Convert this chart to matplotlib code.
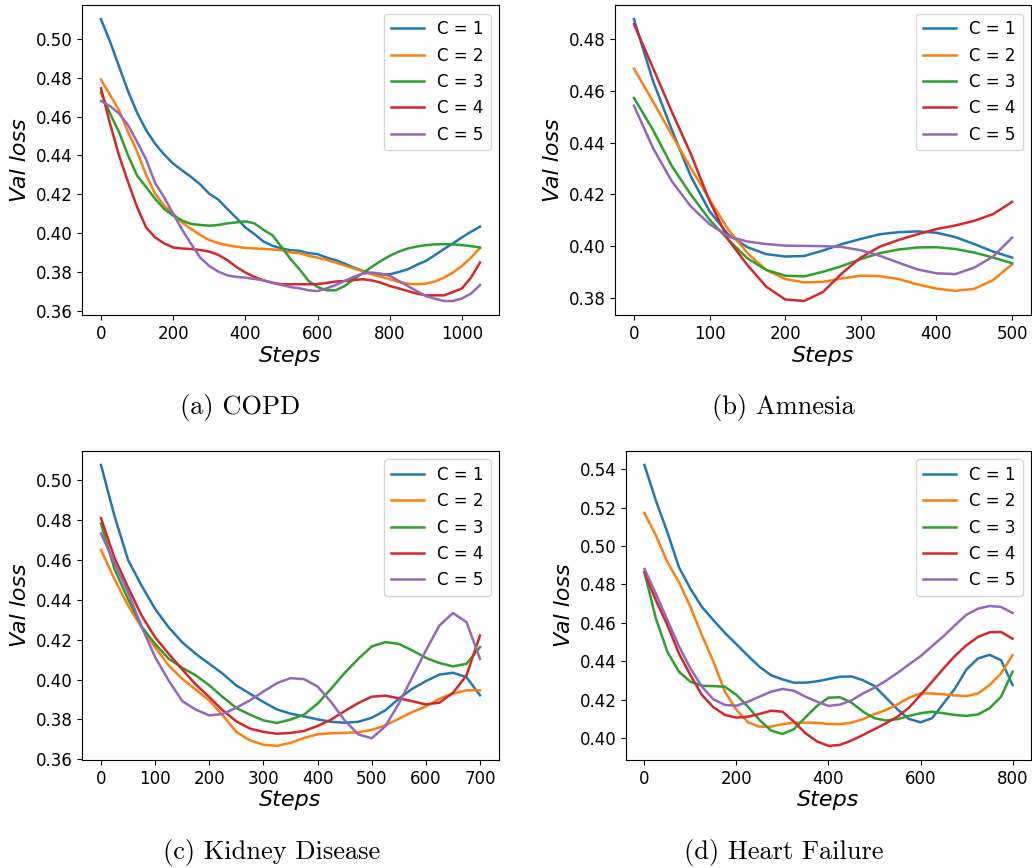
import numpy as np
import matplotlib
matplotlib.use('Agg')
from matplotlib import pyplot as plt


# ---------------------------------------------------------------- data
LABELS = ['C = 1', 'C = 2', 'C = 3', 'C = 4', 'C = 5']
CAPTIONS = ['(a) COPD', '(b) Amnesia', '(c) Kidney Disease', '(d) Heart Failure']

# (a) COPD, every 25 steps
steps_copd = list(range(0, 1051, 25))
copd_c1 = [0.5100, 0.4986, 0.4857, 0.4730, 0.4620, 0.4530, 0.4460, 0.4405, 0.4358, 0.4323, 0.4289,
           0.4251, 0.4203, 0.4173, 0.4125, 0.4079, 0.4030, 0.3996, 0.3958, 0.3936, 0.3922, 0.3913,
           0.3910, 0.3898, 0.3893, 0.3875, 0.3862, 0.3844, 0.3824, 0.3807, 0.3793, 0.3788, 0.3789,
           0.3801, 0.3815, 0.3838, 0.3858, 0.3888, 0.3919, 0.3948, 0.3979, 0.4008, 0.4034]
copd_c2 = [0.4790, 0.4711, 0.4633, 0.4521, 0.4420, 0.4300, 0.4203, 0.4142, 0.4100, 0.4056, 0.4022,
           0.3991, 0.3965, 0.3950, 0.3939, 0.3931, 0.3925, 0.3922, 0.3920, 0.3917, 0.3913, 0.3901,
           0.3898, 0.3884, 0.3875, 0.3863, 0.3850, 0.3834, 0.3819, 0.3805, 0.3789, 0.3776, 0.3764,
           0.3750, 0.3741, 0.3738, 0.3741, 0.3752, 0.3772, 0.3798, 0.3832, 0.3875, 0.3924]
copd_c3 = [0.4723, 0.4616, 0.4520, 0.4400, 0.4297, 0.4237, 0.4177, 0.4125, 0.4091, 0.4065, 0.4048,
           0.4043, 0.4039, 0.4043, 0.4051, 0.4056, 0.4061, 0.4051, 0.4018, 0.3990, 0.3930, 0.3868,
           0.3815, 0.3755, 0.3724, 0.3707, 0.3707, 0.3729, 0.3764, 0.3795, 0.3827, 0.3858, 0.3884,
           0.3906, 0.3922, 0.3932, 0.3939, 0.3943, 0.3944, 0.3943, 0.3939, 0.3934, 0.3927]
copd_c4 = [0.4745, 0.4564, 0.4400, 0.4263, 0.4135, 0.4030, 0.3979, 0.3948, 0.3927, 0.3922, 0.3919,
           0.3914, 0.3906, 0.3889, 0.3862, 0.3827, 0.3798, 0.3776, 0.3758, 0.3746, 0.3738, 0.3738,
           0.3738, 0.3738, 0.3739, 0.3745, 0.3752, 0.3755, 0.3760, 0.3764, 0.3758, 0.3746, 0.3729,
           0.3717, 0.3703, 0.3690, 0.3681, 0.3681, 0.3681, 0.3698, 0.3717, 0.3772, 0.3850]
copd_c5 = [0.4680, 0.4654, 0.4616, 0.4556, 0.4470, 0.4380, 0.4258, 0.4185, 0.4100, 0.4018, 0.3944,
           0.3875, 0.3832, 0.3803, 0.3784, 0.3776, 0.3772, 0.3765, 0.3758, 0.3746, 0.3734, 0.3724,
           0.3717, 0.3707, 0.3703, 0.3717, 0.3734, 0.3755, 0.3776, 0.3793, 0.3798, 0.3793, 0.3781,
           0.3755, 0.3729, 0.3703, 0.3677, 0.3664, 0.3652, 0.3652, 0.3665, 0.3690, 0.3734]

# (b) Amnesia, every 25 steps
steps_amn = list(range(0, 501, 25))
amn_c1 = [0.4877, 0.4640, 0.4450, 0.4271, 0.4135, 0.4044, 0.3996, 0.3969, 0.3960, 0.3962, 0.3983,
          0.4008, 0.4028, 0.4046, 0.4054, 0.4057, 0.4052, 0.4035, 0.4008, 0.3979, 0.3956]
amn_c2 = [0.4686, 0.4560, 0.4430, 0.4303, 0.4180, 0.4063, 0.3973, 0.3908, 0.3873, 0.3860, 0.3862,
          0.3875, 0.3886, 0.3884, 0.3873, 0.3852, 0.3836, 0.3827, 0.3835, 0.3869, 0.3930]
amn_c3 = [0.4573, 0.4450, 0.4310, 0.4200, 0.4102, 0.4024, 0.3953, 0.3908, 0.3886, 0.3883, 0.3901,
          0.3923, 0.3950, 0.3973, 0.3987, 0.3995, 0.3996, 0.3989, 0.3975, 0.3956, 0.3934]
amn_c4 = [0.4858, 0.4690, 0.4520, 0.4358, 0.4174, 0.4024, 0.3927, 0.3843, 0.3794, 0.3788, 0.3823,
          0.3895, 0.3956, 0.3998, 0.4024, 0.4046, 0.4066, 0.4080, 0.4098, 0.4124, 0.4171]
amn_c5 = [0.4543, 0.4380, 0.4251, 0.4154, 0.4085, 0.4037, 0.4018, 0.4008, 0.4002, 0.4001, 0.4000,
          0.3997, 0.3984, 0.3963, 0.3936, 0.3910, 0.3895, 0.3892, 0.3917, 0.3960, 0.4033]

# (c) Kidney Disease, every 25 steps
steps_kid = list(range(0, 701, 25))
kid_c1 = [0.5077, 0.4820, 0.4600, 0.4471, 0.4354, 0.4262, 0.4187, 0.4129, 0.4079, 0.4029, 0.3970,
          0.3929, 0.3887, 0.3850, 0.3829, 0.3815, 0.3800, 0.3788, 0.3783, 0.3788, 0.3808, 0.3845,
          0.3904, 0.3954, 0.3992, 0.4025, 0.4034, 0.4012, 0.3921]
kid_c2 = [0.4650, 0.4504, 0.4371, 0.4262, 0.4162, 0.4071, 0.4004, 0.3949, 0.3895, 0.3820, 0.3737,
          0.3695, 0.3673, 0.3667, 0.3682, 0.3707, 0.3725, 0.3730, 0.3732, 0.3735, 0.3747, 0.3770,
          0.3803, 0.3837, 0.3865, 0.3904, 0.3929, 0.3946, 0.3946]
kid_c3 = [0.4783, 0.4554, 0.4404, 0.4266, 0.4179, 0.4104, 0.4059, 0.4021, 0.3971, 0.3912, 0.3857,
          0.3824, 0.3795, 0.3782, 0.3799, 0.3824, 0.3879, 0.3954, 0.4033, 0.4104, 0.4166, 0.4188,
          0.4179, 0.4146, 0.4109, 0.4083, 0.4066, 0.4079, 0.4163]
kid_c4 = [0.4810, 0.4610, 0.4463, 0.4321, 0.4212, 0.4129, 0.4051, 0.3975, 0.3912, 0.3845, 0.3790,
          0.3754, 0.3737, 0.3728, 0.3732, 0.3742, 0.3767, 0.3799, 0.3842, 0.3882, 0.3914, 0.3919,
          0.3906, 0.3891, 0.3875, 0.3884, 0.3933, 0.4021, 0.4221]
kid_c5 = [0.4733, 0.4583, 0.4438, 0.4266, 0.4112, 0.3995, 0.3892, 0.3849, 0.3820, 0.3827, 0.3859,
          0.3895, 0.3940, 0.3982, 0.4007, 0.4002, 0.3965, 0.3887, 0.3795, 0.3725, 0.3705, 0.3765,
          0.3879, 0.4012, 0.4146, 0.4271, 0.4334, 0.4288, 0.4104]

# (d) Heart Failure, every 25 steps
steps_hf = list(range(0, 801, 25))
hf_c1 = [0.5422, 0.5236, 0.5071, 0.4890, 0.4778, 0.4683, 0.4614, 0.4548, 0.4489, 0.4429, 0.4372,
         0.4328, 0.4306, 0.4289, 0.4289, 0.4296, 0.4308, 0.4320, 0.4321, 0.4302, 0.4271, 0.4211,
         0.4150, 0.4100, 0.4083, 0.4104, 0.4181, 0.4259, 0.4358, 0.4415, 0.4434, 0.4406, 0.4277]
hf_c2 = [0.5172, 0.5055, 0.4916, 0.4812, 0.4683, 0.4536, 0.4398, 0.4242, 0.4147, 0.4083, 0.4060,
         0.4060, 0.4073, 0.4081, 0.4081, 0.4080, 0.4074, 0.4073, 0.4081, 0.4099, 0.4126, 0.4147,
         0.4176, 0.4211, 0.4233, 0.4233, 0.4228, 0.4223, 0.4219, 0.4233, 0.4277, 0.4337, 0.4432]
hf_c3 = [0.4864, 0.4622, 0.4449, 0.4346, 0.4294, 0.4273, 0.4271, 0.4268, 0.4225, 0.4164, 0.4095,
         0.4040, 0.4022, 0.4047, 0.4109, 0.4168, 0.4211, 0.4213, 0.4185, 0.4138, 0.4104, 0.4092,
         0.4099, 0.4116, 0.4130, 0.4138, 0.4130, 0.4121, 0.4116, 0.4124, 0.4156, 0.4216, 0.4346]
hf_c4 = [0.4864, 0.4717, 0.4588, 0.4441, 0.4328, 0.4225, 0.4161, 0.4121, 0.4107, 0.4112, 0.4126,
         0.4143, 0.4138, 0.4086, 0.4026, 0.3983, 0.3960, 0.3965, 0.3988, 0.4017, 0.4047, 0.4078,
         0.4112, 0.4159, 0.4225, 0.4294, 0.4363, 0.4429, 0.4484, 0.4527, 0.4551, 0.4553, 0.4518]
hf_c5 = [0.4881, 0.4752, 0.4614, 0.4479, 0.4363, 0.4268, 0.4202, 0.4173, 0.4169, 0.4190, 0.4216,
         0.4242, 0.4256, 0.4247, 0.4216, 0.4190, 0.4168, 0.4175, 0.4197, 0.4233, 0.4263, 0.4299,
         0.4340, 0.4384, 0.4427, 0.4479, 0.4531, 0.4588, 0.4643, 0.4674, 0.4688, 0.4683, 0.4652]


# ---------------------------------------------------------------- plot
fig = plt.figure(figsize=[10.32, 8.68], dpi=100)

# axes rectangles [left, bottom, width, height] in figure fraction
rects = [[0.0795, 0.637, 0.404, 0.357],
         [0.5960, 0.637, 0.403, 0.357],
         [0.0795, 0.1245, 0.404, 0.356],
         [0.6066, 0.1245, 0.3924, 0.356]]

panels = [(steps_copd, [copd_c1, copd_c2, copd_c3, copd_c4, copd_c5]),
          (steps_amn,  [amn_c1, amn_c2, amn_c3, amn_c4, amn_c5]),
          (steps_kid,  [kid_c1, kid_c2, kid_c3, kid_c4, kid_c5]),
          (steps_hf,   [hf_c1, hf_c2, hf_c3, hf_c4, hf_c5])]

for rect, (steps, series) in zip(rects, panels):
    ax = fig.add_axes(rect)
    for data, label in zip(series, LABELS):
        ax.plot(steps, data, lw=1.8, label=label)
    ax.set_xlabel('Steps', fontsize=16, style='italic', labelpad=2)
    ax.set_ylabel('Val loss', fontsize=16, style='italic')
    ax.tick_params(labelsize=12)
    ax.legend(loc='upper right', fontsize=12)

# sub-figure captions (LaTeX-like serif)
cap_pos = [(0.233, 0.530), (0.759, 0.530), (0.263, 0.018), (0.759, 0.018)]
for (x, y), text in zip(cap_pos, CAPTIONS):
    fig.text(x, y, text, family='cmr10', fontsize=19, ha='center', va='center')

fig.savefig('out.png', dpi=100)
